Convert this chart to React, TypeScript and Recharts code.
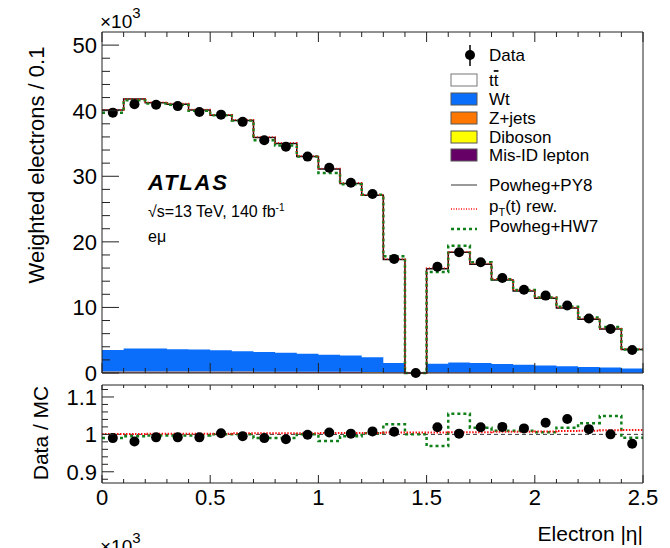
import React from 'react';
import { ComposedChart, Line, Area, Scatter, XAxis, YAxis, ReferenceLine } from 'recharts';

// ---- data (electron |eta| bins of width 0.1) ----
const binEdges = [0, 0.1, 0.2, 0.3, 0.4, 0.5, 0.6, 0.7, 0.8, 0.9, 1.0, 1.1, 1.2, 1.3, 1.4, 1.5, 1.6, 1.7, 1.8, 1.9, 2.0, 2.1, 2.2, 2.3, 2.4, 2.5];
const binCenters = [0.05, 0.15, 0.25, 0.35, 0.45, 0.55, 0.65, 0.75, 0.85, 0.95, 1.05, 1.15, 1.25, 1.35, 1.45, 1.55, 1.65, 1.75, 1.85, 1.95, 2.05, 2.15, 2.25, 2.35, 2.45];
// values in units of 10^3
const dataCounts = [39.7, 41.0, 40.9, 40.7, 39.8, 39.4, 38.3, 35.5, 34.5, 33.0, 31.3, 29.0, 27.3, 17.4, 0, 16.2, 18.4, 16.9, 14.5, 12.7, 11.8, 10.3, 8.3, 6.7, 3.5];
const mcPowhegPy8 = [40.1, 41.8, 41.2, 41.0, 40.1, 39.3, 38.5, 35.9, 35.0, 33.0, 31.1, 28.9, 27.1, 17.3, 0, 15.9, 18.4, 16.6, 14.2, 12.5, 11.4, 9.9, 8.2, 6.7, 3.6];
const mcPtRew = [40.1, 41.8, 41.3, 41.1, 40.2, 39.4, 38.6, 36.0, 35.1, 33.1, 31.2, 29.0, 27.2, 17.4, 0, 16.0, 18.5, 16.7, 14.3, 12.6, 11.5, 10.0, 8.3, 6.8, 3.65];
const mcPowhegHw7 = [39.7, 41.6, 41.1, 40.9, 40.0, 39.3, 38.5, 35.5, 34.7, 33.0, 30.5, 28.8, 27.2, 17.8, 0, 15.4, 19.4, 16.9, 14.3, 12.65, 11.5, 10.1, 8.45, 7.0, 3.57];
const bkgWt = [3.3, 3.5, 3.5, 3.4, 3.35, 3.25, 3.1, 3.0, 2.9, 2.75, 2.6, 2.5, 2.25, 1.4, 0, 1.3, 1.5, 1.4, 1.25, 1.15, 1.05, 0.95, 0.85, 0.75, 0.65];
const bkgZjets = [0.06, 0.06, 0.06, 0.06, 0.06, 0.06, 0.06, 0.05, 0.05, 0.05, 0.05, 0.05, 0.05, 0.03, 0, 0.03, 0.03, 0.03, 0.03, 0.03, 0.02, 0.02, 0.02, 0.02, 0.01];
const bkgDiboson = [0.04, 0.04, 0.04, 0.04, 0.04, 0.04, 0.04, 0.04, 0.03, 0.03, 0.03, 0.03, 0.03, 0.02, 0, 0.02, 0.02, 0.02, 0.02, 0.02, 0.02, 0.02, 0.01, 0.01, 0.01];
const bkgMisId = [0.12, 0.12, 0.12, 0.12, 0.12, 0.11, 0.11, 0.11, 0.1, 0.1, 0.1, 0.1, 0.09, 0.06, 0, 0.06, 0.07, 0.06, 0.06, 0.05, 0.05, 0.05, 0.04, 0.04, 0.03];
const ratioData = [0.990, 0.981, 0.992, 0.992, 0.992, 1.003, 0.995, 0.990, 0.987, 0.999, 1.005, 1.002, 1.008, 1.007, null, 1.019, 1.002, 1.019, 1.020, 1.016, 1.031, 1.041, 1.014, 1.000, 0.975];
const ratioHw7 = [0.990, 0.995, 0.997, 0.997, 0.997, 1.000, 1.000, 0.990, 0.990, 1.000, 0.982, 0.995, 1.003, 1.027, 1.000, 0.969, 1.055, 1.018, 1.010, 1.010, 1.006, 1.018, 1.030, 1.049, 0.991];
const ratioPtRew = [1.001, 1.001, 1.002, 1.002, 1.002, 1.002, 1.003, 1.003, 1.003, 1.003, 1.004, 1.004, 1.004, 1.005, 1.005, 1.005, 1.006, 1.006, 1.007, 1.007, 1.008, 1.009, 1.010, 1.011, 1.012];

// ---- tick lists ----
const xTicks = [0, 0.1, 0.2, 0.3, 0.4, 0.5, 0.6, 0.7, 0.8, 0.9, 1.0, 1.1, 1.2, 1.3, 1.4, 1.5, 1.6, 1.7, 1.8, 1.9, 2.0, 2.1, 2.2, 2.3, 2.4, 2.5];
const xTickLabels = ['0', '0.5', '1', '1.5', '2', '2.5'];
const mainYTicks = [0, 2, 4, 6, 8, 10, 12, 14, 16, 18, 20, 22, 24, 26, 28, 30, 32, 34, 36, 38, 40, 42, 44, 46, 48, 50];
const mainYTickLabels = ['0', '10', '20', '30', '40', '50'];
const ratioYTicks = [0.88, 0.9, 0.92, 0.94, 0.96, 0.98, 1.0, 1.02, 1.04, 1.06, 1.08, 1.1, 1.12];
const ratioYTickLabels = ['0.9', '1', '1.1'];

// ---- tables built from the arrays ----
const histRows = binEdges.map((x, i) => {
  const j = Math.min(i, binCenters.length - 1);
  return {
    x,
    misid: bkgMisId[j],
    diboson: bkgDiboson[j],
    zjets: bkgZjets[j],
    wt: bkgWt[j],
    py8: mcPowhegPy8[j],
    rew: mcPtRew[j],
    hw7: mcPowhegHw7[j],
    rHw7: ratioHw7[j],
    rRew: ratioPtRew[j],
  };
});
const mainPoints = binCenters.map((x, i) => ({ x, y: dataCounts[i] }));
const ratioPoints = binCenters
  .map((x, i) => ({ x, y: ratioData[i] }))
  .filter((p) => p.y !== null);

const FONT = '"Liberation Sans", Arial, Helvetica, sans-serif';
const FRAME = '#222';

type Side = 'left' | 'right' | 'top' | 'bottom';
const makeTick = (side: Side, majorLen: number, minorLen: number, isMajor: (v: number) => boolean, labels?: string[], fontSize = 22) => (props: any) => {
  const { x, y, payload } = props;
  const v = Number(payload.value);
  const major = isMajor(v);
  const len = major ? majorLen : minorLen;
  let x2 = x;
  let y2 = y;
  if (side === 'left') x2 = x + len;
  else if (side === 'right') x2 = x - len;
  else if (side === 'bottom') y2 = y - len;
  else y2 = y + len;
  let lbl: string | null = null;
  if (major && labels) {
    const s = String(Math.round(v * 10) / 10);
    lbl = labels.includes(s) ? s : null;
  }
  return (
    <g>
      <line x1={x} y1={y} x2={x2} y2={y2} stroke={FRAME} strokeWidth={1} />
      {lbl !== null && side === 'left' && (
        <text x={x - 5} y={y} dy="0.36em" textAnchor="end" fontSize={fontSize} fontFamily={FONT} fill="#000">{lbl}</text>
      )}
      {lbl !== null && side === 'bottom' && (
        <text x={x} y={y + 22} textAnchor="middle" fontSize={fontSize} fontFamily={FONT} fill="#000">{lbl}</text>
      )}
    </g>
  );
};

const near = (v: number, step: number) => Math.abs(v / step - Math.round(v / step)) < 1e-6;
const isX = (v: number) => near(v, 0.5);
const isMainY = (v: number) => near(v, 10);
const isRatioY = (v: number) => near(v, 0.1);

const dot = (p: any) => <circle cx={p.cx} cy={p.cy} r={5} fill="#000" />;

const axisLine = { stroke: FRAME, strokeWidth: 1 };

function MainPanel() {
  return (
    <ComposedChart width={670} height={548} data={histRows} margin={{ top: 31, right: 26, bottom: 174, left: 101 }}>
      <XAxis xAxisId="b" dataKey="x" type="number" domain={[0, 2.5]} ticks={xTicks} interval={0} height={1} orientation="bottom" tickSize={0} tickMargin={0} tickLine={false} axisLine={axisLine} tick={makeTick('bottom', 10, 5, isX)} />
      <XAxis xAxisId="t" dataKey="x" type="number" domain={[0, 2.5]} ticks={xTicks} interval={0} height={1} orientation="top" tickSize={0} tickMargin={0} tickLine={false} axisLine={axisLine} tick={makeTick('top', 10, 5, isX)} />
      <YAxis yAxisId="l" type="number" domain={[0, 52]} ticks={mainYTicks} interval={0} width={1} orientation="left" tickSize={0} tickMargin={0} tickLine={false} axisLine={axisLine} tick={makeTick('left', 17, 8, isMainY, mainYTickLabels, 22)} />
      <YAxis yAxisId="r" type="number" domain={[0, 52]} ticks={mainYTicks} interval={0} width={1} orientation="right" tickSize={0} tickMargin={0} tickLine={false} axisLine={axisLine} tick={makeTick('right', 17, 8, isMainY)} />
      <Area xAxisId="b" yAxisId="l" type="stepAfter" dataKey="misid" stackId="bg" fill="#660066" fillOpacity={1} stroke="none" isAnimationActive={false} />
      <Area xAxisId="b" yAxisId="l" type="stepAfter" dataKey="diboson" stackId="bg" fill="#ffff00" fillOpacity={1} stroke="none" isAnimationActive={false} />
      <Area xAxisId="b" yAxisId="l" type="stepAfter" dataKey="zjets" stackId="bg" fill="#ff7700" fillOpacity={1} stroke="none" isAnimationActive={false} />
      <Area xAxisId="b" yAxisId="l" type="stepAfter" dataKey="wt" stackId="bg" fill="#0a6efa" fillOpacity={1} stroke="none" isAnimationActive={false} />
      <Line xAxisId="b" yAxisId="l" type="stepAfter" dataKey="py8" stroke="#111" strokeWidth={1.5} dot={false} isAnimationActive={false} />
      <Line xAxisId="b" yAxisId="l" type="stepAfter" dataKey="hw7" stroke="#11801a" strokeWidth={2.5} strokeDasharray="3 3" dot={false} isAnimationActive={false} />
      <Line xAxisId="b" yAxisId="l" type="stepAfter" dataKey="rew" stroke="#ff1010" strokeWidth={1.5} strokeDasharray="1 2" dot={false} isAnimationActive={false} />
      <Scatter xAxisId="b" yAxisId="l" data={mainPoints} dataKey="y" shape={dot} isAnimationActive={false} />
    </ComposedChart>
  );
}

function RatioPanel() {
  return (
    <ComposedChart width={670} height={548} data={histRows} margin={{ top: 384, right: 26, bottom: 64, left: 101 }}>
      <XAxis xAxisId="b" dataKey="x" type="number" domain={[0, 2.5]} ticks={xTicks} interval={0} height={1} orientation="bottom" tickSize={0} tickMargin={0} tickLine={false} axisLine={axisLine} tick={makeTick('bottom', 8, 4, isX, xTickLabels, 22)} />
      <XAxis xAxisId="t" dataKey="x" type="number" domain={[0, 2.5]} ticks={xTicks} interval={0} height={1} orientation="top" tickSize={0} tickMargin={0} tickLine={false} axisLine={axisLine} tick={makeTick('top', 5, 3, isX)} />
      <YAxis yAxisId="l" type="number" domain={[0.87, 1.132]} ticks={ratioYTicks} interval={0} width={1} orientation="left" tickSize={0} tickMargin={0} tickLine={false} axisLine={axisLine} tick={makeTick('left', 12, 6, isRatioY, ratioYTickLabels, 22)} />
      <YAxis yAxisId="r" type="number" domain={[0.87, 1.132]} ticks={ratioYTicks} interval={0} width={1} orientation="right" tickSize={0} tickMargin={0} tickLine={false} axisLine={axisLine} tick={makeTick('right', 12, 6, isRatioY)} />
      <ReferenceLine xAxisId="b" yAxisId="l" y={1} stroke="#333" strokeWidth={1} strokeDasharray="4 3" />
      <Line xAxisId="b" yAxisId="l" type="stepAfter" dataKey="rHw7" stroke="#11801a" strokeWidth={2.5} strokeDasharray="3 3" dot={false} isAnimationActive={false} />
      <Line xAxisId="b" yAxisId="l" type="stepAfter" dataKey="rRew" stroke="#ff1010" strokeWidth={2} strokeDasharray="1.5 1.5" dot={false} isAnimationActive={false} />
      <Scatter xAxisId="b" yAxisId="l" data={ratioPoints} dataKey="y" shape={dot} isAnimationActive={false} />
    </ComposedChart>
  );
}

const legendBoxes = [
  { label: 'Wt', fill: '#0a6efa', y: 99 },
  { label: 'Z+jets', fill: '#ff7700', y: 118 },
  { label: 'Diboson', fill: '#ffff00', y: 137 },
  { label: 'Mis-ID lepton', fill: '#660066', y: 155 },
];

function Overlay() {
  const t = { fontFamily: FONT, fill: '#000' } as const;
  return (
    <svg width={670} height={548} style={{ position: 'absolute', left: 0, top: 0, pointerEvents: 'none' }}>
      {/* exponent labels */}
      <text x={100} y={28} fontSize={19} {...t}>×10<tspan dy={-10} fontSize={15}>3</tspan></text>
      <text x={100} y={553} fontSize={19} {...t}>×10<tspan dy={-10} fontSize={15}>3</tspan></text>
      {/* axis titles */}
      <text transform="translate(44,165) rotate(-90)" textAnchor="middle" fontSize={22} {...t}>Weighted electrons / 0.1</text>
      <text transform="translate(48,433) rotate(-90)" textAnchor="middle" fontSize={21} {...t}>Data / MC</text>
      <text x={643} y={541} textAnchor="end" fontSize={21} {...t}>Electron |η|</text>
      {/* ATLAS label */}
      <text x={148} y={190} fontSize={22} fontWeight="bold" fontStyle="italic" letterSpacing={1.8} {...t}>ATLAS</text>
      <text x={148} y={217} fontSize={16} {...t}>√s=13 TeV, 140 fb<tspan dy={-6} fontSize={10}>-1</tspan></text>
      <text x={148} y={242} fontSize={16} {...t}>eμ</text>
      {/* legend */}
      <line x1={470} y1={45} x2={470} y2={66} stroke="#000" strokeWidth={1.5} />
      <circle cx={470} cy={55} r={5} fill="#000" />
      <text x={489} y={55} dy="0.36em" fontSize={17} {...t}>Data</text>
      <rect x={451} y={74} width={26} height={12} fill="#fff" stroke="#777" strokeWidth={1} />
      <text x={489} y={80} dy="0.36em" fontSize={17} {...t}>t<tspan style={{ textDecoration: 'overline' }}>t</tspan></text>
      {legendBoxes.map((b) => (
        <g key={b.label}>
          <rect x={451} y={b.y - 6} width={26} height={12} fill={b.fill} stroke="#555" strokeWidth={1} />
          <text x={489} y={b.y} dy="0.36em" fontSize={17} {...t}>{b.label}</text>
        </g>
      ))}
      <line x1={451} y1={185} x2={477} y2={185} stroke="#777" strokeWidth={1.5} />
      <text x={489} y={185} dy="0.36em" fontSize={17} {...t}>Powheg+PY8</text>
      <line x1={451} y1={209} x2={477} y2={209} stroke="#ff1010" strokeWidth={1.5} strokeDasharray="1 1.5" />
      <text x={489} y={206} dy="0.36em" fontSize={17} {...t}>p<tspan dy={4} fontSize={11}>T</tspan><tspan dy={-4}>(t) rew.</tspan></text>
      <line x1={451} y1={229} x2={477} y2={229} stroke="#11801a" strokeWidth={2.5} strokeDasharray="3 3" />
      <text x={489} y={226} dy="0.36em" fontSize={17} {...t}>Powheg+HW7</text>
    </svg>
  );
}

export default function App() {
  return (
    <div style={{ position: 'absolute', left: 0, top: 0, width: 670, height: 548, overflow: 'hidden', background: '#fff' }}>
      <div style={{ position: 'absolute', left: 0, top: 0 }}><MainPanel /></div>
      <div style={{ position: 'absolute', left: 0, top: 0 }}><RatioPanel /></div>
      <Overlay />
    </div>
  );
}
